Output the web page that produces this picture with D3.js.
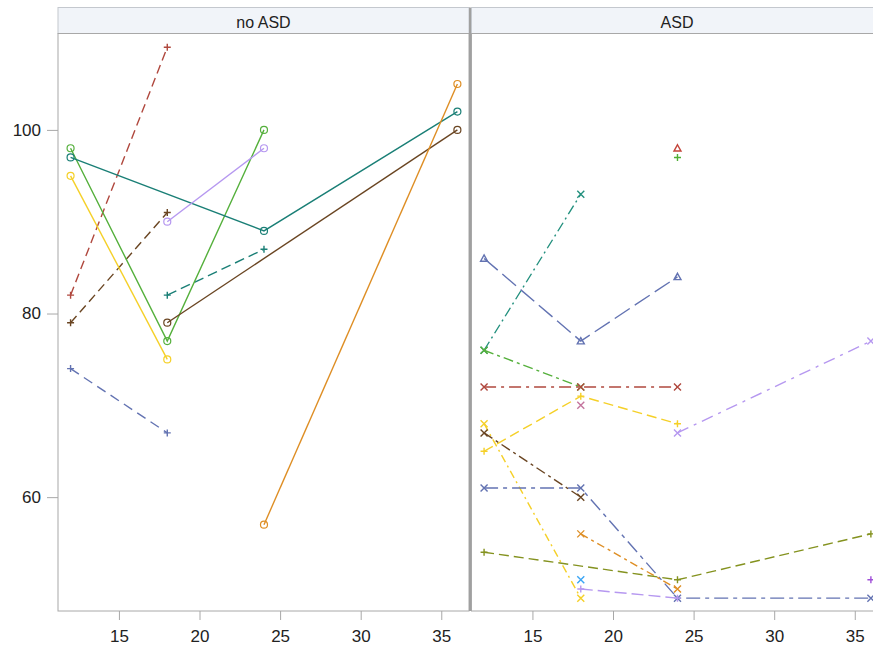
<!DOCTYPE html>
<html lang="en">
<head>
  <meta charset="UTF-8" />
  <title>Panel chart: no ASD / ASD</title>
  <script src="https://d3js.org/d3.v7.min.js"></script>
  <style>
    body { margin: 0; background: #fff; font-family: "Liberation Sans", Arial, sans-serif; }
    svg { display: block; }
    .tick text { font-size: 17px; fill: #222; }
  </style>
</head>
<body>
  <svg id="chart" width="873" height="652"></svg>

  <script>
    // panels and axis ticks
    const panels = ["no ASD", "ASD"];
    const xTicks = [15, 20, 25, 30, 35];
    const yTicks = [60, 80, 100];

    // no ASD subjects: ages (months) and scores
    const noAsdSeries = [
      { id: "n1", ages: [12, 18], values: [82, 109] },
      { id: "n2", ages: [12, 18], values: [79, 91] },
      { id: "n3", ages: [12, 18], values: [74, 67] },
      { id: "n4", ages: [18, 24], values: [82, 87] },
      { id: "n5", ages: [12, 18, 24], values: [98, 77, 100] },
      { id: "n6", ages: [12, 24, 36], values: [97, 89, 102] },
      { id: "n7", ages: [12, 18], values: [95, 75] },
      { id: "n8", ages: [18, 24], values: [90, 98] },
      { id: "n9", ages: [18, 36], values: [79, 100] },
      { id: "n10", ages: [24, 36], values: [57, 105] }
    ];

    // ASD subjects
    const asdSeries = [
      { id: "a1", ages: [12, 18], values: [76, 93] },
      { id: "a2", ages: [12, 18, 24], values: [86, 77, 84] },
      { id: "a3", ages: [12, 18], values: [76, 72] },
      { id: "a4", ages: [12, 18, 24], values: [72, 72, 72] },
      { id: "a5", ages: [12, 18, 24], values: [65, 71, 68] },
      { id: "a6", ages: [18], values: [70] },
      { id: "a7", ages: [24, 36], values: [67, 77] },
      { id: "a8", ages: [12, 18], values: [68, 49] },
      { id: "a9", ages: [12, 18], values: [67, 60] },
      { id: "a10", ages: [12, 18, 24, 36], values: [61, 61, 49, 49] },
      { id: "a11", ages: [18, 24], values: [56, 50] },
      { id: "a12", ages: [12, 24, 36], values: [54, 51, 56] },
      { id: "a13", ages: [18], values: [51] },
      { id: "a14", ages: [18, 24], values: [50, 49] },
      { id: "a15", ages: [36], values: [51] },
      { id: "a16", ages: [24], values: [98] },
      { id: "a17", ages: [24], values: [97] }
    ];

    // look of each subject line: colour, dash pattern, marker
    const styles = {
      n1: ["#B0483E", "9,5", "plus"],
      n2: ["#6A4522", "9,5", "plus"],
      n3: ["#6373B2", "10,6", "plus"],
      n4: ["#1A7F76", "10,5", "plus"],
      n5: ["#55B03C", null, "circle"],
      n6: ["#1A7F76", null, "circle"],
      n7: ["#F5D028", null, "circle"],
      n8: ["#B698F0", null, "circle"],
      n9: ["#6A4522", null, "circle"],
      n10: ["#DE8E24", null, "circle"],
      a1: ["#23907E", "10,4,2,4", "cross"],
      a2: ["#6373B2", "18,6", "triangle"],
      a3: ["#55B03C", "10,4,3,4", "cross"],
      a4: ["#B0483E", "12,5,3,5", "cross"],
      a5: ["#F5D028", "10,5", "plus"],
      a6: ["#C4759E", null, "cross"],
      a7: ["#B698F0", "12,6,3,6", "cross"],
      a8: ["#F5D028", "8,4,2,4", "cross"],
      a9: ["#6A4522", "10,4,3,4", "cross"],
      a10: ["#6373B2", "14,5,4,5", "cross"],
      a11: ["#DE8E24", "8,4,3,4", "cross"],
      a12: ["#84921F", "10,5", "plus"],
      a13: ["#3AA5F5", null, "cross"],
      a14: ["#B698F0", "12,5", "plus"],
      a15: ["#A04FD8", null, "plus"],
      a16: ["#C4443A", null, "triangle"],
      a17: ["#4FAE35", null, "plus"]
    };

    const svg = d3.select("#chart");
    const plotTop = 33.5, plotBottom = 611, panelW = 411;
    const panelX = [58, 471.5];

    const y = d3.scaleLinear().domain([47.6, 110.5]).range([plotBottom, plotTop]);

    const line = (x) => d3.line().x(d => x(d[0])).y(d => y(d[1]));

    function marker(g, kind, cx, cy, color) {
      const s = 3.5;
      if (kind === "circle") {
        g.append("circle").attr("cx", cx).attr("cy", cy).attr("r", s)
          .attr("fill", "none").attr("stroke", color).attr("stroke-width", 1.2);
      } else if (kind === "plus") {
        g.append("path").attr("d", `M${cx - s},${cy}H${cx + s}M${cx},${cy - s}V${cy + s}`)
          .attr("stroke", color).attr("stroke-width", 1.4);
      } else if (kind === "cross") {
        g.append("path").attr("d", `M${cx - s},${cy - s}L${cx + s},${cy + s}M${cx - s},${cy + s}L${cx + s},${cy - s}`)
          .attr("stroke", color).attr("stroke-width", 1.4);
      } else if (kind === "triangle") {
        g.append("path").attr("d", `M${cx},${cy - s}L${cx + s},${cy + s * 0.8}L${cx - s},${cy + s * 0.8}Z`)
          .attr("fill", "none").attr("stroke", color).attr("stroke-width", 1.4);
      }
    }

    [noAsdSeries, asdSeries].forEach((series, i) => {
      const x0 = panelX[i];
      const x = d3.scaleLinear().domain([11.22, 36.72]).range([x0, x0 + panelW]);

      // header strip
      svg.append("rect").attr("x", x0).attr("y", 7.5).attr("width", panelW).attr("height", plotTop - 7.5)
        .attr("fill", "#F1F4F9").attr("stroke", "#C4C8CE");
      svg.append("text").attr("x", x0 + panelW / 2).attr("y", 28)
        .attr("text-anchor", "middle").attr("font-size", 16).attr("fill", "#222")
        .text(panels[i]);

      // plot frame
      svg.append("rect").attr("x", x0).attr("y", plotTop).attr("width", panelW).attr("height", plotBottom - plotTop)
        .attr("fill", "#fff").attr("stroke", "#A8A8A8");

      // x axis
      const xa = svg.append("g").attr("transform", `translate(0,${plotBottom})`)
        .call(d3.axisBottom(x).tickValues(xTicks).tickSize(9).tickPadding(6));
      xa.select(".domain").remove();
      xa.selectAll(".tick line").attr("stroke", "#A8A8A8");
      xa.selectAll(".tick text").attr("dy", "0.95em");

      const g = svg.append("g");
      series.forEach(s => {
        const [color, dash, kind] = styles[s.id];
        const pts = s.ages.map((a, k) => [a, s.values[k]]);
        if (pts.length > 1) {
          g.append("path").datum(pts).attr("d", line(x))
            .attr("fill", "none").attr("stroke", color).attr("stroke-width", 1.4)
            .attr("stroke-dasharray", dash);
        }
        pts.forEach(p => marker(g, kind, x(p[0]), y(p[1]), color));
      });
    });

    // divider between panels
    svg.append("line").attr("x1", 470).attr("x2", 470).attr("y1", 7.5).attr("y2", plotBottom)
      .attr("stroke", "#A0A0A0").attr("stroke-width", 2);

    // y axis
    const ya = svg.append("g").attr("transform", `translate(${panelX[0]},0)`)
      .call(d3.axisLeft(y).tickValues(yTicks).tickSize(11).tickPadding(6));
    ya.select(".domain").remove();
    ya.selectAll(".tick line").attr("stroke", "#A8A8A8");
  </script>
</body>
</html>
